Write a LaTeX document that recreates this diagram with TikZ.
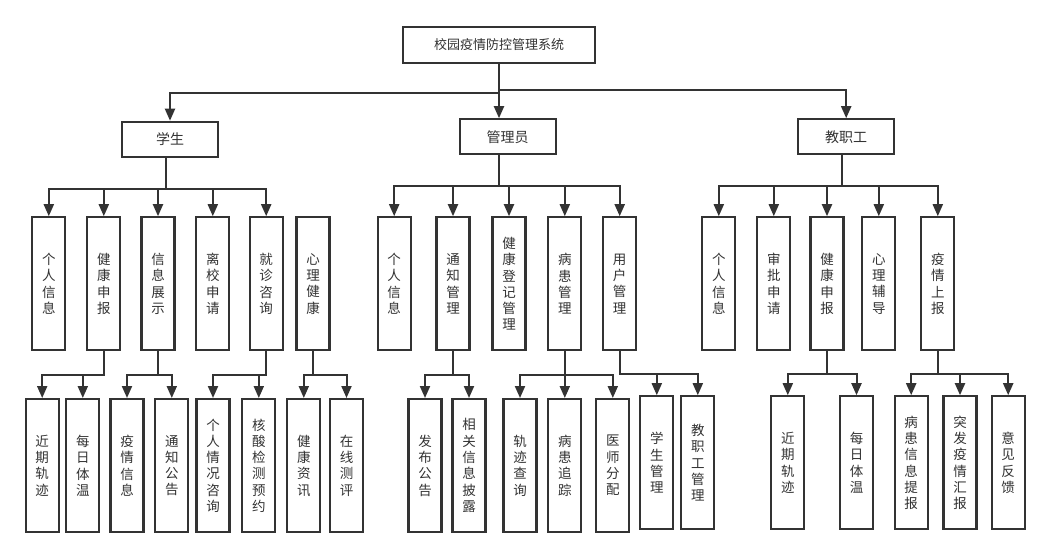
\documentclass[tikz,border=0pt]{standalone}
\usepackage{fontspec}
\newfontfamily\cjk{Noto Sans CJK SC}
\usetikzlibrary{arrows.meta}
\definecolor{ln}{HTML}{333333}
\begin{document}
\begin{tikzpicture}[x=1pt,y=-1pt,
 box/.style={draw=ln, line width=2.2pt, fill=white, inner sep=0pt, text=ln, font=\cjk\fontsize{13.5}{16.3}\selectfont, align=center},
 hbox/.style={box, minimum width=96pt, minimum height=35pt, font=\cjk\fontsize{14}{16}\selectfont},
 vbox/.style={box, minimum width=33pt, minimum height=133pt},
 arr/.style={draw=ln, line width=2pt, -{Triangle[length=12pt,width=10pt]}},
]
\useasboundingbox (0,0) rectangle (1050,558);
% top
\node[box, minimum width=192pt, minimum height=36pt, font=\cjk\fontsize{13}{16}\selectfont] (top) at (499,45) {校园疫情防控管理系统};
% level 1
\node[hbox] (stu) at (170,139.3) {学生};
\node[hbox] (adm) at (507.7,136.8) {管理员};
\node[hbox] (tea) at (846.2,136.8) {教职工};
% level 2 student
\node[vbox] (s1) at (48.8,283.8) {个\\人\\信\\息};
\node[vbox] (s2) at (103.8,283.8) {健\\康\\申\\报};
\node[vbox] (s3) at (158,283.8) {信\\息\\展\\示};
\node[vbox] (s4) at (212.8,283.8) {离\\校\\申\\请};
\node[vbox] (s5) at (266.2,283.8) {就\\诊\\咨\\询};
\node[vbox] (s6) at (313,283.8) {心\\理\\健\\康};
% level 2 admin
\node[vbox] (a1) at (394.2,283.8) {个\\人\\信\\息};
\node[vbox] (a2) at (453,283.8) {通\\知\\管\\理};
\node[vbox] (a3) at (509,283.8) {健\\康\\登\\记\\管\\理};
\node[vbox] (a4) at (564.8,283.8) {病\\患\\管\\理};
\node[vbox] (a5) at (619.7,283.8) {用\\户\\管\\理};
% level 2 teacher
\node[vbox] (t1) at (718.8,283.8) {个\\人\\信\\息};
\node[vbox] (t2) at (773.8,283.8) {审\\批\\申\\请};
\node[vbox] (t3) at (827,283.8) {健\\康\\申\\报};
\node[vbox] (t4) at (878.8,283.8) {心\\理\\辅\\导};
\node[vbox] (t5) at (937.8,283.8) {疫\\情\\上\\报};
% level 3 student
\node[vbox] (s21) at (42.2,465.6) {近\\期\\轨\\迹};
\node[vbox] (s22) at (82.8,465.6) {每\\日\\体\\温};
\node[vbox] (s31) at (127,465.6) {疫\\情\\信\\息};
\node[vbox] (s32) at (171.8,465.6) {通\\知\\公\\告};
\node[vbox] (s51) at (213,465.6) {个\\人\\情\\况\\咨\\询};
\node[vbox] (s52) at (258.8,465.6) {核\\酸\\检\\测\\预\\约};
\node[vbox] (s61) at (303.8,465.6) {健\\康\\资\\讯};
\node[vbox] (s62) at (346.5,465.6) {在\\线\\测\\评};
% level 3 admin
\node[vbox] (a21) at (425,465.6) {发\\布\\公\\告};
\node[vbox] (a22) at (469,465.6) {相\\关\\信\\息\\披\\露};
\node[vbox] (a41) at (520,465.6) {轨\\迹\\查\\询};
\node[vbox] (a42) at (564.8,465.6) {病\\患\\追\\踪};
\node[vbox] (a43) at (612.8,465.6) {医\\师\\分\\配};
\node[vbox] (a51) at (656.8,462.8) {学\\生\\管\\理};
\node[vbox] (a52) at (697.8,462.8) {教\\职\\工\\管\\理};
% level 3 teacher
\node[vbox] (t31) at (787.8,462.8) {近\\期\\轨\\迹};
\node[vbox] (t32) at (856.5,462.8) {每\\日\\体\\温};
\node[vbox] (t51) at (911.2,462.8) {病\\患\\信\\息\\提\\报};
\node[vbox] (t52) at (960,462.8) {突\\发\\疫\\情\\汇\\报};
\node[vbox] (t53) at (1008.2,462.8) {意\\见\\反\\馈};
% connectors level 1
\draw[arr] (top.south) -- ++(0,28.4) -| (stu.north);
\draw[arr] (top.south) -- (top.south |- adm.north);
\draw[arr] (top.south) -- ++(0,26) -| (tea.north);
% connectors level 2
\foreach \c in {s1,s2,s3,s4,s5}
  \draw[arr] ([xshift=-4pt]stu.south) -- ++(0,31) -| (\c.north);
\foreach \c in {a1,a2,a3,a4,a5}
  \draw[arr] ([xshift=-8.4pt]adm.south) -- ++(0,30.3) -| (\c.north);
\foreach \c in {t1,t2,t3,t4,t5}
  \draw[arr] ([xshift=-4pt]tea.south) -- ++(0,30.3) -| (\c.north);
% connectors level 3
\foreach \c in {s21,s22} \draw[arr] (s2.south) -- ++(0,24) -| (\c.north);
\foreach \c in {s31,s32} \draw[arr] (s3.south) -- ++(0,24) -| (\c.north);
\foreach \c in {s51,s52} \draw[arr] (s5.south) -- ++(0,24) -| (\c.north);
\foreach \c in {s61,s62} \draw[arr] (s6.south) -- ++(0,24) -| (\c.north);
\foreach \c in {a21,a22} \draw[arr] (a2.south) -- ++(0,24) -| (\c.north);
\foreach \c in {a41,a42,a43} \draw[arr] (a4.south) -- ++(0,24) -| (\c.north);
\foreach \c in {a51,a52} \draw[arr] (a5.south) -- ++(0,22.3) -| (\c.north);
\foreach \c in {t31,t32} \draw[arr] (t3.south) -- ++(0,22.3) -| (\c.north);
\foreach \c in {t51,t52,t53} \draw[arr] (t5.south) -- ++(0,22.3) -| (\c.north);
\end{tikzpicture}
\end{document}
